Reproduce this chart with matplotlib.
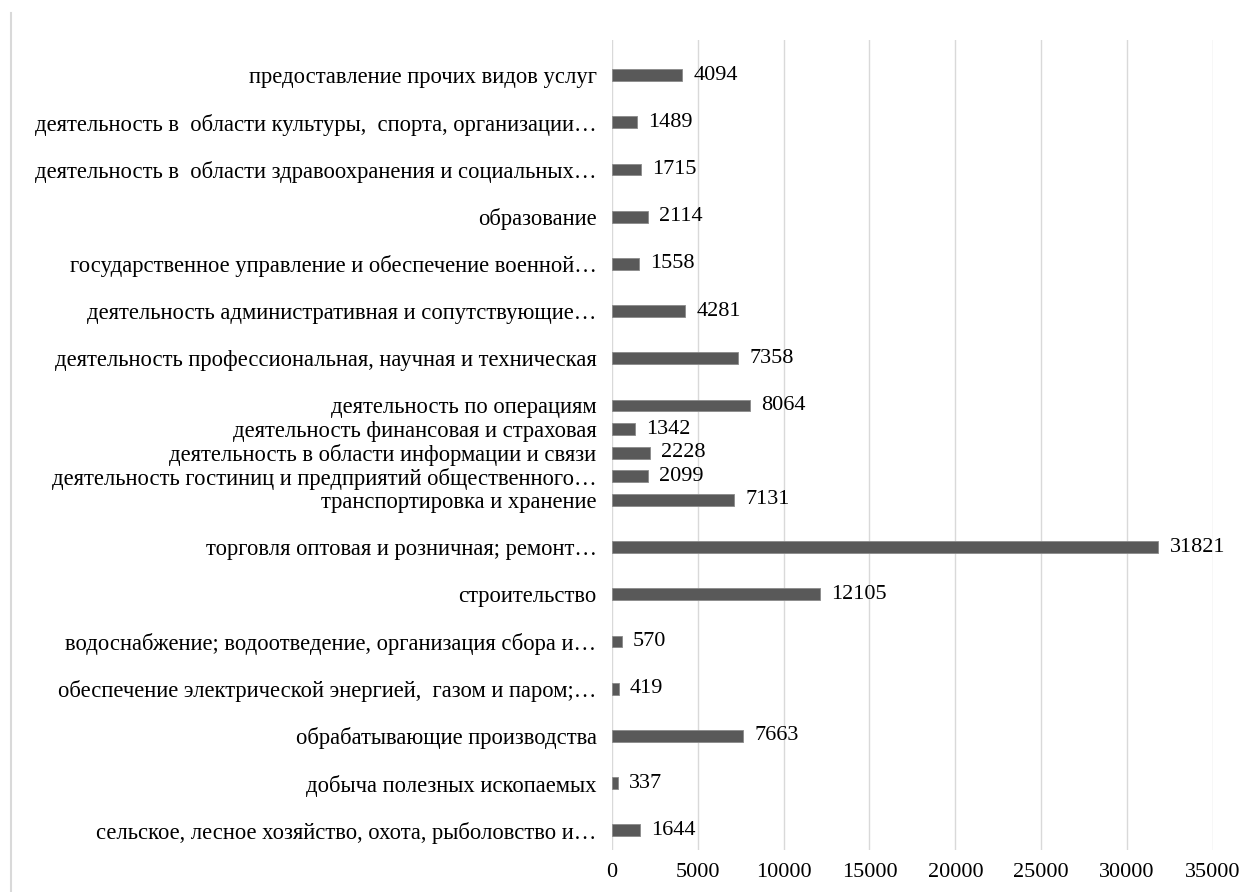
import matplotlib.pyplot as plt
from matplotlib.lines import Line2D

plt.rcParams['font.family'] = ['Liberation Serif', 'DejaVu Serif']

categories = [
    'сельское, лесное хозяйство, охота, рыболовство и…',
    'добыча полезных ископаемых',
    'обрабатывающие производства',
    'обеспечение электрической энергией,  газом и паром;…',
    'водоснабжение; водоотведение, организация сбора и…',
    'строительство',
    'торговля оптовая и розничная; ремонт…',
    'транспортировка и хранение',
    'деятельность гостиниц и предприятий общественного…',
    'деятельность в области информации и связи',
    'деятельность финансовая и страховая',
    'деятельность по операциям',
    'деятельность профессиональная, научная и техническая',
    'деятельность административная и сопутствующие…',
    'государственное управление и обеспечение военной…',
    'образование',
    'деятельность в  области здравоохранения и социальных…',
    'деятельность в  области культуры,  спорта, организации…',
    'предоставление прочих видов услуг',
]
values = [1644, 337, 7663, 419, 570, 12105, 31821, 7131, 2099, 2228,
          1342, 8064, 7358, 4281, 1558, 2114, 1715, 1489, 4094]
# row steps: a few rows are packed at half spacing, as in the original
steps = [0, 1, 1, 1, 1, 1, 1, 1, 0.5, 0.5, 0.5, 0.5, 1, 1, 1, 1, 1, 1, 1]

pos = []
y = 0
for s in steps:
    y += s
    pos.append(y)

fig = plt.figure(figsize=(12.46, 8.92), dpi=100)
ax = fig.add_axes([0.491, 0.047, 0.4825, 0.908])

bars = ax.barh(pos, values, height=0.25, color='#595959',
               edgecolor='#8a8a8a', linewidth=0.6, zorder=3)
ax.bar_label(bars, labels=[str(v) for v in values], padding=8, fontsize=16)

ax.set_xlim(0, 35000)
ax.set_ylim(-0.42, 16.74)
ax.set_xticks(range(0, 35001, 5000))
ax.set_yticks(pos)
ax.set_yticklabels(categories, fontsize=16.3)
ax.tick_params(axis='both', length=0)
ax.tick_params(axis='x', labelsize=16, pad=9)
ax.tick_params(axis='y', pad=11)
ax.grid(axis='x', color='#d9d9d9', linewidth=1, zorder=0)
for s in ax.spines.values():
    s.set_visible(False)

fig.add_artist(Line2D([0.0085, 0.0085], [0, 0.985], color='#d9d9d9',
                      linewidth=1.5, transform=fig.transFigure))

fig.savefig('out.png', dpi=100)
